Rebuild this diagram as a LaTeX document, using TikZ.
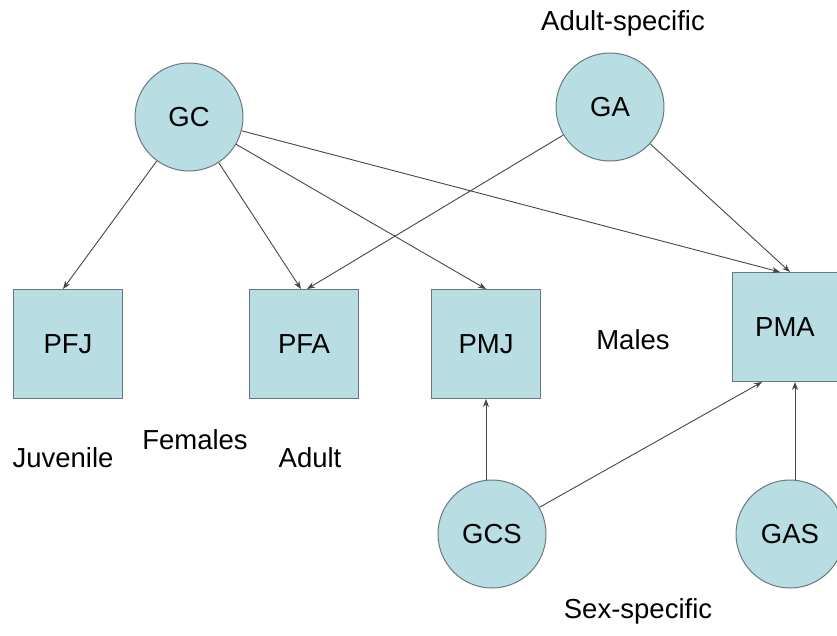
\documentclass[tikz,border=0pt]{standalone}
\usepackage{fontspec}
\setmainfont{Liberation Sans}
\usetikzlibrary{arrows.meta}
\definecolor{cellfill}{RGB}{184, 222, 228}
\definecolor{celledge}{RGB}{105, 120, 125}
\definecolor{wire}{RGB}{70, 70, 70}

\begin{document}
\begin{tikzpicture}[
    x=1pt, y=-1pt,
    >={Stealth[length=8pt, width=6pt]},
    gene/.style={circle, draw=celledge, fill=cellfill, line width=1pt, minimum size=108pt, inner sep=0pt, font=\fontsize{27.5}{31}\selectfont},
    pop/.style={rectangle, draw=celledge, fill=cellfill, line width=1pt, minimum width=#1, minimum height=109pt, inner sep=0pt, font=\fontsize{27.5}{31}\selectfont},
    pop/.default=109pt,
    lab/.style={font=\fontsize{27.5}{31}\selectfont, inner sep=0pt},
    link/.style={->, wire, line width=0.9pt},
  ]

  \useasboundingbox (0,0) rectangle (837,635);

  % genes
  \node[gene] (GC) at (189,117) {GC};
  \node[gene] (GA) at (610,107) {GA};
  \node[gene] (GCS) at (492,534) {GCS};
  \node[gene] (GAS) at (790,534) {GAS};

  % populations
  \node[pop] (PFJ) at (68,344) {PFJ};
  \node[pop] (PFA) at (304,344) {PFA};
  \node[pop] (PMJ) at (486,344) {PMJ};
  \node[pop=106pt] (PMA) at (785,327) {PMA};

  % labels
  \node[lab] (adsp) at (623,23) {Adult-specific};
  \node[lab] (juv) at (63,458) {Juvenile};
  \node[lab] (fem) at (195,440) {Females};
  \node[lab] (adu) at (310,458) {Adult};
  \node[lab] (mal) at (633,340) {Males};
  \node[lab] (sxsp) at (638,611) {Sex-specific};

  % links
  \draw[link] (GC) -- ([xshift=-5pt]PFJ.north);
  \draw[link] (GC) -- ([xshift=-3pt]PFA.north);
  \draw[link] (GC) -- (PMJ.north);
  \draw[link] (GC) -- ([xshift=-5pt]PMA.north);
  \draw[link] (GA) -- ([xshift=3pt]PFA.north);
  \draw[link] (GA) -- ([xshift=5pt]PMA.north);
  \draw[link] (GCS.north -| PMJ.south) -- (PMJ.south);
  \draw[link] (GCS) -- ([xshift=-23pt]PMA.south);
  \draw[link] (GAS.north -| 795,0) -- (PMA.south -| 795,0);

\end{tikzpicture}
\end{document}
